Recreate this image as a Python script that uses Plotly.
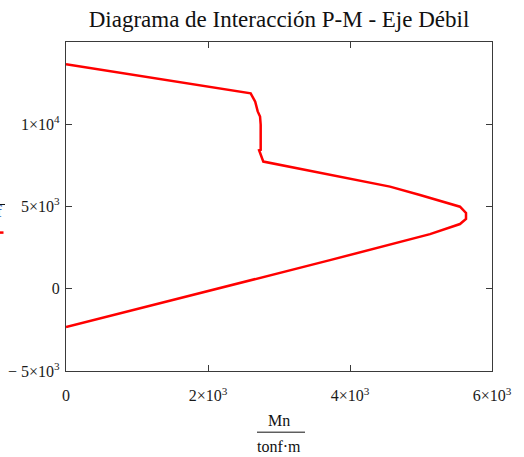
import plotly.graph_objects as go

# Interaction diagram points (Mn in tonf·m, Pn in tonf)
Mn = [0, 2601, 2665, 2700, 2733, 2742, 2742, 2720, 2779, 3249, 3953, 4563, 4986, 5314, 5549, 5634, 5634, 5549, 5127, 3718, 0]
Pn = [13646, 11878, 11370, 10780, 10470, 9970, 8445, 8420, 7732, 7329, 6720, 6207, 5701, 5293, 4988, 4604, 4238, 3933, 3323, 1738, -2329]

x_tickvals = [0, 2000, 4000, 6000]
x_ticktext = ["0", "2×10<sup>3</sup>", "4×10<sup>3</sup>", "6×10<sup>3</sup>"]
y_tickvals = [-5000, 0, 5000, 10000]
y_ticktext = ["− 5×10<sup>3</sup>", "0", "5×10<sup>3</sup>", "1×10<sup>4</sup>"]

FONT = "Liberation Serif, Times New Roman, serif"
AX = "#3a3a3a"

fig = go.Figure()
fig.add_trace(go.Scatter(x=Mn, y=Pn, mode="lines",
                         line=dict(color="#ff0000", width=2.5), showlegend=False))

axis_common = dict(showgrid=False, zeroline=False, showline=True, linecolor=AX, linewidth=1.3,
                   mirror="allticks", ticks="inside", ticklen=6, tickcolor=AX, tickwidth=1.3,
                   automargin=False,
                   tickfont=dict(family=FONT, size=16, color="#1a1a1a"))

fig.update_layout(
    width=524, height=457,
    margin=dict(l=66, r=32, t=42, b=86, autoexpand=False),
    paper_bgcolor="white", plot_bgcolor="white",
    title=dict(text="Diagrama de Interacción P-M - Eje Débil", x=0.5, xref="paper",
               y=(457 - 19) / 457, yref="container", yanchor="middle", automargin=False,
               font=dict(family=FONT, size=23, color="#111")),
    xaxis=dict(range=[0, 6000], tickvals=x_tickvals, ticktext=x_ticktext,
               ticklabelstandoff=10, **axis_common),
    yaxis=dict(range=[-5000, 15000], tickvals=y_tickvals, ticktext=y_ticktext,
               ticklabelstandoff=2, **axis_common),
)

# x-axis title as a fraction
fig.add_annotation(text="Mn", x=0.5, y=(371 - 420) / 328, xref="paper", yref="paper",
                   showarrow=False, xanchor="center", yanchor="middle",
                   font=dict(family=FONT, size=16, color="#111"))
fig.add_annotation(text="tonf·m", x=0.5, y=(371 - 446) / 328, xref="paper", yref="paper",
                   showarrow=False, xanchor="center", yanchor="middle",
                   font=dict(family=FONT, size=16, color="#111"))
fig.add_shape(type="line", xref="paper", yref="paper",
              x0=(257 - 66) / 426, x1=(305 - 66) / 426,
              y0=(371 - 432) / 328, y1=(371 - 432) / 328,
              line=dict(color="#111", width=1))

# cropped y-axis label / legend fragment at left edge
fig.add_shape(type="line", xref="paper", yref="paper",
              x0=(-30 - 66) / 426, x1=(5 - 66) / 426,
              y0=(371 - 205) / 328, y1=(371 - 205) / 328,
              line=dict(color="#111", width=1))
fig.add_annotation(text="tonf", x=(3.5 - 66) / 426, y=(371 - 212) / 328, xref="paper", yref="paper",
                   showarrow=False, xanchor="right", yanchor="middle",
                   font=dict(family=FONT, size=16, color="#2050b0"))
fig.add_shape(type="line", xref="paper", yref="paper",
              x0=(-20 - 66) / 426, x1=(3.5 - 66) / 426,
              y0=(371 - 233) / 328, y1=(371 - 233) / 328,
              line=dict(color="#ff0000", width=2.5))

fig.write_html("out.html", config={"displayModeBar": False},
               post_script="document.body.style.margin='0px';document.body.style.overflow='hidden';")
